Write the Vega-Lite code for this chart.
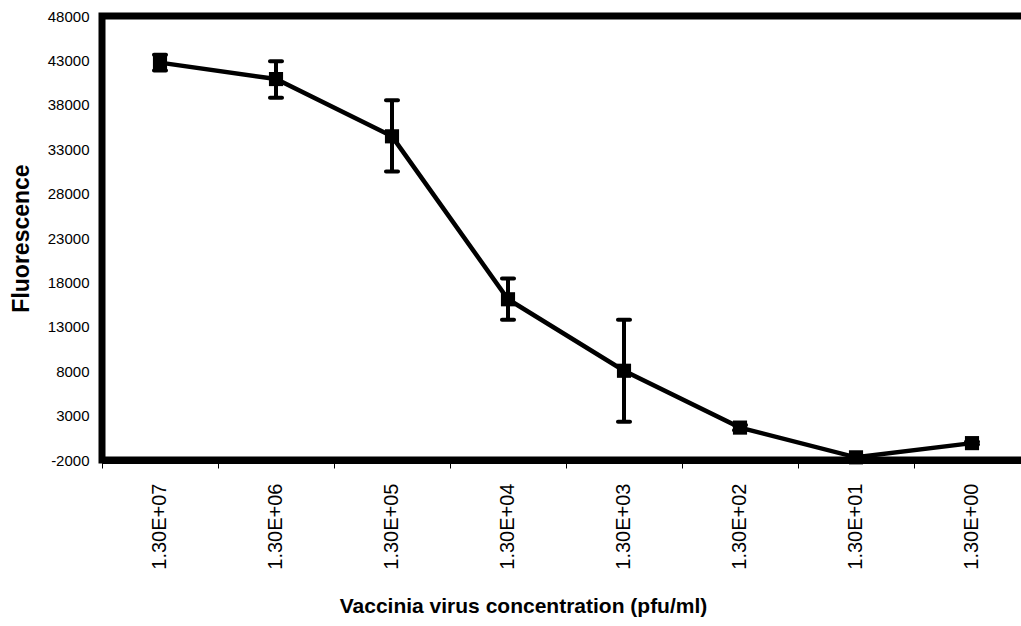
{
  "$schema": "https://vega.github.io/schema/vega-lite/v6.json",
  "autosize": {"type": "none"},
  "padding": {"left": 102, "top": 16, "right": 0, "bottom": 166},
  "width": 928,
  "height": 444,
  "background": "white",
  "config": {
    "font": "Liberation Sans",
    "view": {"stroke": "black", "strokeWidth": 7}
  },
  "data": {
    "values": [
      {"c": "1.30E+07", "y": 42750, "lo": 41850, "hi": 43650},
      {"c": "1.30E+06", "y": 40900, "lo": 38800, "hi": 42900},
      {"c": "1.30E+05", "y": 34450, "lo": 30500, "hi": 38500},
      {"c": "1.30E+04", "y": 16100, "lo": 13800, "hi": 18450},
      {"c": "1.30E+03", "y": 8050, "lo": 2300, "hi": 13800},
      {"c": "1.30E+02", "y": 1650, "lo": 1350, "hi": 1950},
      {"c": "1.30E+01", "y": -1700, "lo": -1900, "hi": -1500},
      {"c": "1.30E+00", "y": -100, "lo": -250, "hi": 50}
    ]
  },
  "encoding": {
    "x": {
      "field": "c",
      "type": "nominal",
      "sort": null,
      "scale": {"paddingInner": 0, "paddingOuter": 0},
      "axis": {
        "title": "Vaccinia virus concentration (pfu/ml)",
        "titleFontSize": 21,
        "titleFontWeight": "bold",
        "titleColor": "black",
        "titleX": 421,
        "titleY": 146,
        "titleAlign": "center",
        "titleBaseline": "middle",
        "bandPosition": 0,
        "domain": true,
        "domainColor": "black",
        "domainWidth": 7,
        "ticks": true,
        "tickColor": "black",
        "tickWidth": 1,
        "tickSize": 8,
        "labelAngle": -90,
        "labelFontSize": 20,
        "labelColor": "black",
        "labelPadding": 15,
        "grid": false
      }
    }
  },
  "layer": [
    {
      "mark": {"type": "rule", "color": "black", "strokeWidth": 4},
      "encoding": {
        "y": {
          "field": "lo",
          "type": "quantitative",
          "title": "Fluorescence",
          "scale": {"domain": [-2000, 48000], "nice": false, "zero": false},
          "axis": {
            "title": "Fluorescence",
            "titleFontSize": 23,
            "titleFontWeight": "bold",
            "titleColor": "black",
            "titleX": -81,
            "titleY": 222,
            "titleAlign": "center",
            "titleBaseline": "middle",
            "values": [-2000, 3000, 8000, 13000, 18000, 23000, 28000, 33000, 38000, 43000, 48000],
            "labelExpr": "datum.value < 0 ? '-' + abs(datum.value) : '' + datum.value",
            "domain": false,
            "ticks": false,
            "tickSize": 0,
            "labelPadding": 13,
            "labelFontSize": 15,
            "labelColor": "black",
            "grid": false
          }
        },
        "y2": {"field": "hi"}
      }
    },
    {
      "mark": {"type": "tick", "color": "black", "size": 16, "thickness": 4, "cornerRadius": 2, "opacity": 1},
      "encoding": {"y": {"field": "lo", "type": "quantitative", "title": "Fluorescence"}}
    },
    {
      "mark": {"type": "tick", "color": "black", "size": 16, "thickness": 4, "cornerRadius": 2, "opacity": 1},
      "encoding": {"y": {"field": "hi", "type": "quantitative", "title": "Fluorescence"}}
    },
    {
      "mark": {"type": "line", "color": "black", "strokeWidth": 4.5},
      "encoding": {"y": {"field": "y", "type": "quantitative", "title": "Fluorescence"}}
    },
    {
      "mark": {"type": "point", "shape": "square", "filled": true, "color": "black", "size": 200, "opacity": 1},
      "encoding": {"y": {"field": "y", "type": "quantitative", "title": "Fluorescence"}}
    }
  ]
}
